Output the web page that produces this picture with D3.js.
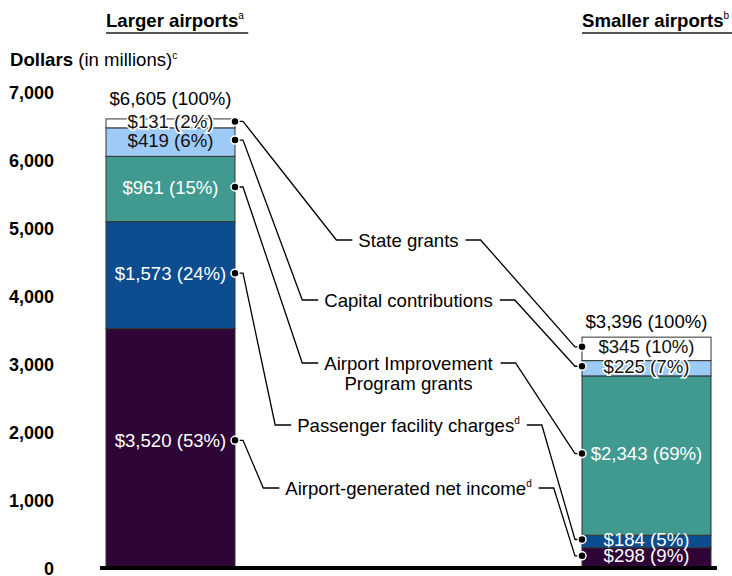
<!DOCTYPE html>
<html>
<head>
  <title>Airport capital funding sources</title>
  <script src="https://d3js.org/d3.v7.min.js"></script>
  <style>
    body { margin: 0; background: #fff; }
    svg { font-family: "Liberation Sans", Arial, sans-serif; }
  </style>
</head>
<body>
  <div id="chart"></div>

  <script>
    // data, bottom segment first
    const groups = ["Larger airports", "Smaller airports"];
    const groupNotes = ["a", "b"];
    const keys = ["net", "pfc", "aip", "capital", "state"];
    const categoryLines = [
      ["Airport-generated net income"],
      ["Passenger facility charges"],
      ["Airport Improvement", "Program grants"],
      ["Capital contributions"],
      ["State grants"]
    ];
    const categoryNotes = ["d", "d", "", "", ""];
    const largerValues = [3520, 1573, 961, 419, 131];
    const largerShares = [53, 24, 15, 6, 2];
    const smallerValues = [298, 184, 2343, 225, 345];
    const smallerShares = [9, 5, 69, 7, 10];
    const totals = [6605, 3396];
    const yTicks = [0, 1000, 2000, 3000, 4000, 5000, 6000, 7000];

    const colors = ["#2e0536", "#0b4d8e", "#409a90", "#9ecbf6", "#ffffff"];
    const textColors = ["#fff", "#fff", "#fff", "#111", "#111"];
    // label rows in the middle column (layout, not data)
    const categoryY = [488, 425, 363, 300, 240];
    const fs = 18.6;

    const width = 732, height = 576;
    const svg = d3.select("#chart").append("svg")
      .attr("width", width)
      .attr("height", height);

    const table = groups.map((g, i) => {
      const vals = i === 0 ? largerValues : smallerValues;
      const row = { group: g };
      keys.forEach((k, j) => row[k] = vals[j]);
      return row;
    });
    const shares = [largerShares, smallerShares];
    const series = d3.stack().keys(keys)(table);

    const x = d3.scaleBand().domain(groups).range([106, 711])
      .paddingInner(0.729).paddingOuter(0);
    const y = d3.scaleLinear().domain([0, 7000]).range([568, 92]);

    // y axis labels
    const yAxis = svg.append("g")
      .attr("transform", "translate(58,1)")
      .call(d3.axisLeft(y).tickValues(yTicks).tickSize(0).tickPadding(4)
        .tickFormat(d3.format(",")));
    yAxis.select(".domain").remove();
    yAxis.selectAll("text")
      .attr("font-family", "Liberation Sans, Arial, sans-serif")
      .attr("font-size", 18)
      .attr("font-weight", "bold")
      .attr("fill", "#000");

    const title = svg.append("text").attr("x", 10).attr("y", 66)
      .attr("font-size", fs).attr("fill", "#000");
    title.append("tspan").attr("font-weight", "bold").text("Dollars");
    title.append("tspan").text(" (in millions)");
    title.append("tspan").attr("font-size", 10).attr("dy", -7).text("c");

    // group headers with underline
    groups.forEach((g, i) => {
      const t = svg.append("text")
        .attr("x", x(g)).attr("y", 27)
        .attr("font-size", fs).attr("font-weight", "bold").attr("fill", "#000");
      t.append("tspan").text(g);
      t.append("tspan").attr("font-size", 10).attr("font-weight", "normal")
        .attr("dy", -8).text(groupNotes[i]);
      const bb = t.node().getBBox();
      svg.append("line")
        .attr("x1", bb.x).attr("x2", bb.x + bb.width + 4)
        .attr("y1", 33).attr("y2", 33)
        .attr("stroke", "#555").attr("stroke-width", 2);
    });

    // stacked bars
    svg.append("g").selectAll("g")
      .data(series).join("g")
      .attr("fill", (d, i) => colors[i])
      .selectAll("rect")
      .data(d => d).join("rect")
      .attr("x", d => x(d.data.group))
      .attr("y", d => y(d[1]))
      .attr("width", x.bandwidth())
      .attr("height", d => y(d[0]) - y(d[1]))
      .attr("stroke", "#333")
      .attr("stroke-width", 1);

    // baseline
    svg.append("line")
      .attr("x1", x(groups[0]) - 6).attr("x2", x(groups[1]) + x.bandwidth() + 6)
      .attr("y1", y(0)).attr("y2", y(0))
      .attr("stroke", "#000").attr("stroke-width", 4);

    // totals above bars
    groups.forEach((g, i) => {
      svg.append("text")
        .attr("x", x(g) + x.bandwidth() / 2)
        .attr("y", y(totals[i]) - (i === 0 ? 20 : 16))
        .attr("dy", "0.35em")
        .attr("text-anchor", "middle")
        .attr("font-size", fs).attr("fill", "#000")
        .text("$" + d3.format(",")(totals[i]) + " (100%)");
    });

    // segment labels; tall bottom segment label sits a bit higher
    const labelY = (d) => {
      const mid = y((d[0] + d[1]) / 2) - 2;
      return d[0] === 0 && d[1] > 2000 ? mid - 6 : mid;
    };
    series.forEach((s, k) => {
      s.forEach((d, gi) => {
        const v = d[1] - d[0];
        const light = textColors[k] === "#111";
        svg.append("text")
          .attr("x", x(d.data.group) + x.bandwidth() / 2)
          .attr("y", labelY(d))
          .attr("dy", "0.35em")
          .attr("text-anchor", "middle")
          .attr("font-size", fs)
          .attr("fill", textColors[k])
          .attr("stroke", light && v < 300 ? "#fff" : "none")
          .attr("stroke-width", 3)
          .attr("paint-order", "stroke")
          .text("$" + d3.format(",")(v) + " (" + shares[gi][k] + "%)");
      });
    });

    // category labels and leader lines
    const midX = (x(groups[0]) + x.bandwidth() + x(groups[1])) / 2;
    const leaders = svg.append("g");
    const dots = svg.append("g");
    categoryLines.forEach((lines, k) => {
      let first;
      lines.forEach((ln, li) => {
        const t = svg.append("text")
          .attr("x", midX).attr("y", categoryY[k] + li * 20)
          .attr("dy", "0.35em")
          .attr("text-anchor", "middle")
          .attr("font-size", fs).attr("fill", "#000");
        t.append("tspan").text(ln);
        if (li === 0 && categoryNotes[k]) {
          t.append("tspan").attr("font-size", 10).attr("dy", -8).text(categoryNotes[k]);
        }
        if (li === 0) first = t.node().getBBox();
      });
      const ty = categoryY[k];
      const dL = series[k][0], dS = series[k][1];
      const xR = x(groups[0]) + x.bandwidth();
      const xL = x(groups[1]);
      const yL = labelY(dL), yS = labelY(dS);
      const left = [[xR, yL], [xR + 8, yL], [first.x - 22, ty], [first.x - 6, ty]];
      const right = [[first.x + first.width + 7, ty], [first.x + first.width + 22, ty], [xL - 7, yS], [xL, yS]];
      [left, right].forEach(pts => {
        leaders.append("path")
          .attr("d", d3.line()(pts))
          .attr("fill", "none")
          .attr("stroke", "#000")
          .attr("stroke-width", 1.3);
      });
      [[xR, yL], [xL, yS]].forEach(p => {
        dots.append("circle")
          .attr("cx", p[0]).attr("cy", p[1]).attr("r", 4)
          .attr("fill", "#000").attr("stroke", "#fff").attr("stroke-width", 1.5);
      });
    });
  </script>
</body>
</html>
